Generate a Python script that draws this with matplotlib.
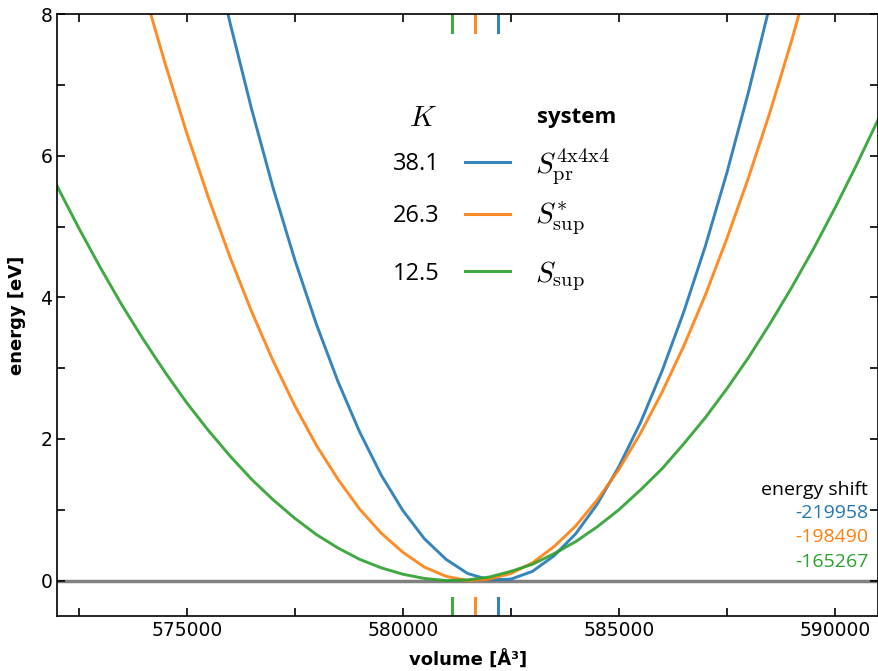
import matplotlib
matplotlib.use("Agg")
import matplotlib.pyplot as plt
from matplotlib.ticker import MultipleLocator

plt.rcParams['mathtext.fontset'] = 'cm'

# volumes [A^3] (500 A^3 grid) and energies [eV]
vol_pr = list(range(575500, 589001, 500))
E_pr = [9.20, 7.88, 6.66, 5.54, 4.53, 3.62, 2.81, 2.10, 1.49, 0.99,
        0.59, 0.30, 0.10, 0.01, 0.02, 0.13, 0.35, 0.66, 1.08, 1.61,
        2.23, 2.96, 3.79, 4.72, 5.76, 6.90, 8.14, 9.48]

vol_sup_star = list(range(574000, 590001, 500))
E_sup_star = [8.35, 7.30, 6.32, 5.41, 4.57, 3.80, 3.10, 2.47, 1.91, 1.43,
              1.01, 0.67, 0.40, 0.19, 0.06, 0.00, 0.02, 0.10, 0.25, 0.48,
              0.77, 1.14, 1.57, 2.08, 2.66, 3.31, 4.03, 4.83, 5.69, 6.62,
              7.63, 8.71, 9.85]

vol_sup = list(range(571500, 591501, 500))
E_sup = [6.19, 5.57, 4.98, 4.42, 3.89, 3.40, 2.94, 2.51, 2.12, 1.76,
         1.43, 1.14, 0.88, 0.65, 0.46, 0.30, 0.18, 0.09, 0.03, 0.00,
         0.01, 0.05, 0.13, 0.23, 0.38, 0.55, 0.76, 1.00, 1.28, 1.58,
         1.93, 2.30, 2.71, 3.15, 3.63, 4.14, 4.68, 5.26, 5.87, 6.51,
         7.18]

V0 = [582200, 581670, 581130]
K = ["38.1", "26.3", "12.5"]
shifts = ["-219958", "-198490", "-165267"]
labels = [r"$S_{\rm pr}^{\rm 4x4x4}$", r"$S^{*}_{\rm sup}$", r"$S_{\rm sup}$"]
colors = ["#1f77b4", "#ff7f0e", "#2ca02c"]

fig = plt.figure(figsize=(8.79, 6.71), dpi=100)
ax = fig.add_axes([0.065, 0.082, 0.934, 0.897])

ax.axhline(0, color="gray", lw=2.5, zorder=1)
for vv, ee, c in zip([vol_pr, vol_sup_star, vol_sup], [E_pr, E_sup_star, E_sup], colors):
    ax.plot(vv, ee, color=c, lw=2.1, alpha=0.9, solid_joinstyle="round")

for v, c in zip(V0, colors):
    ax.axvline(v, ymin=0, ymax=0.03, color=c, lw=2.2, alpha=0.9)
    ax.axvline(v, ymin=0.97, ymax=1, color=c, lw=2.2, alpha=0.9)

ax.set_xlim(572000, 591000)
ax.set_ylim(-0.5, 8)
ax.xaxis.set_major_locator(MultipleLocator(5000))
ax.xaxis.set_minor_locator(MultipleLocator(2500))
ax.yaxis.set_major_locator(MultipleLocator(2))
ax.yaxis.set_minor_locator(MultipleLocator(1))
ax.tick_params(which="both", direction="in", top=True, right=True,
               length=6, width=1.2, labelsize=13.5)
for s in ax.spines.values():
    s.set_linewidth(1.2)

ax.set_xlabel("volume [Å³]", fontsize=13, fontweight="bold", labelpad=8)
ax.set_ylabel("energy [eV]", fontsize=13, fontweight="bold", labelpad=10)

# legend-like table
ax.text(0.463, 0.828, r"$K$", transform=ax.transAxes, fontsize=21,
        ha="right", va="center")
ax.text(0.584, 0.828, "system", transform=ax.transAxes, fontsize=16,
        fontweight="bold", ha="left", va="center", family="Open Sans")
rows_y = [0.755, 0.668, 0.573]
for k, lab, c, y in zip(K, labels, colors, rows_y):
    ax.text(0.466, y - 0.004, k, transform=ax.transAxes, fontsize=17,
            ha="right", va="center", family="Open Sans")
    ax.plot([0.497, 0.552], [y, y], transform=ax.transAxes, color=c,
            lw=2.2, alpha=0.9)
    ax.text(0.582, y - 0.008, lab, transform=ax.transAxes, fontsize=21,
            ha="left", va="center")

ax.text(0.988, 0.21, "energy shift", transform=ax.transAxes, fontsize=14,
        ha="right", va="center", family="Open Sans")
for sh, c, y in zip(shifts, colors, [0.171, 0.131, 0.089]):
    ax.text(0.988, y, sh, transform=ax.transAxes, fontsize=14, color=c,
            ha="right", va="center", family="Open Sans")

fig.savefig("out.png", dpi=100)
